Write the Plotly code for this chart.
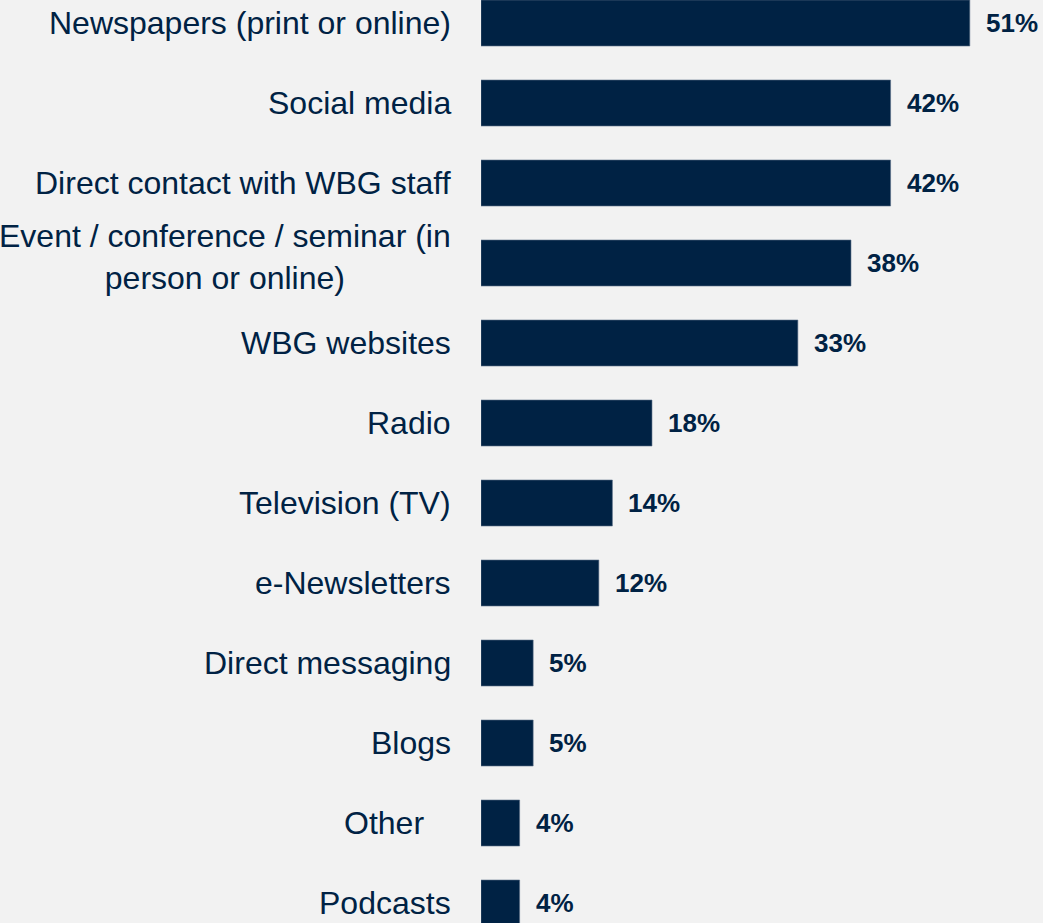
import plotly.graph_objects as go

categories = [
    "Newspapers (print or online)",
    "Social media",
    "Direct contact with WBG staff",
    "Event / conference / seminar (in<br>person or online)",
    "WBG websites",
    "Radio",
    "Television (TV)",
    "e-Newsletters",
    "Direct messaging",
    "Blogs",
    "Other\u00a0\u00a0\u00a0",
    "Podcasts",
]
values = [50.6, 42.4, 42.4, 38.3, 32.8, 17.7, 13.6, 12.2, 5.4, 5.4, 4.0, 4.0]
value_labels = ["51%", "42%", "42%", "38%", "33%", "18%", "14%", "12%", "5%", "5%", "4%", "4%"]

NAVY = "#002244"
BG = "#f2f2f2"
FONT = "Liberation Sans, Arial, sans-serif"

fig = go.Figure(
    go.Bar(
        x=values,
        y=categories,
        orientation="h",
        marker=dict(color=NAVY, line=dict(color="#5a6f88", width=0.6)),
        width=0.575,
        hoverinfo="skip",
        cliponaxis=False,
    )
)

annotations = []
for cat in categories:
    annotations.append(dict(
        xref="paper", x=0, yref="y", y=cat, text=cat,
        xanchor="right", yanchor="middle", align="center",
        xshift=-28, yshift=6 if "<br>" in cat else 0, showarrow=False,
        font=dict(family=FONT, size=32, color=NAVY),
    ))
for cat, v, lab in zip(categories, values, value_labels):
    annotations.append(dict(
        xref="x", x=v, yref="y", y=cat, text="<b>" + lab + "</b>",
        xanchor="left", yanchor="middle", xshift=14, showarrow=False,
        font=dict(family=FONT, size=26, color=NAVY),
    ))

fig.update_layout(
    width=1043, height=923,
    margin=dict(l=481, r=0, t=0, b=0),
    paper_bgcolor=BG, plot_bgcolor=BG,
    showlegend=False,
    annotations=annotations,
    xaxis=dict(range=[0, 562 / 9.66], visible=False, fixedrange=True),
    yaxis=dict(
        type="category", categoryorder="array", categoryarray=categories,
        range=[11.25, -0.2875], showticklabels=False, showgrid=False,
        zeroline=False, showline=False, ticks="", fixedrange=True,
    ),
)

fig.write_html(
    "out.html",
    config={"displayModeBar": False},
    post_script="document.body.style.margin='0';document.body.style.background='#f2f2f2';document.body.style.overflow='hidden';",
)
